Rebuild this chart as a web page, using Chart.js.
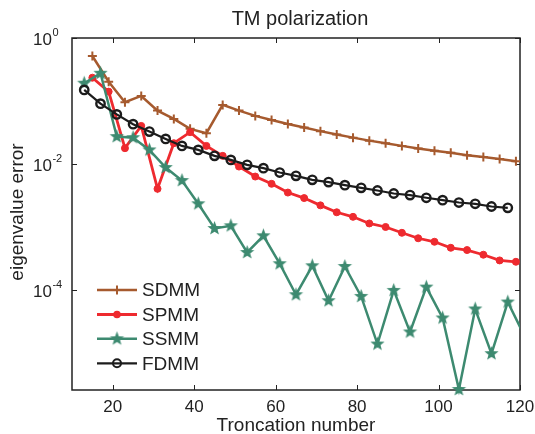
<!DOCTYPE html>
<html>
<head>
<meta charset="utf-8">
<script src="https://cdn.jsdelivr.net/npm/chart.js@4.4.0/dist/chart.umd.min.js"></script>
<style>
  body { margin: 0; background: #fff; }
  #c { display: block; }
</style>
</head>
<body>
<canvas id="c" width="535" height="434"></canvas>
<script>
// truncation numbers for each method
const X_SDMM = [15, 19, 23, 27, 31, 35, 39, 43, 47, 51, 55, 59, 63, 67, 71, 75, 79, 83, 87, 91, 95, 99, 103, 107, 111, 115, 119];
const X_SPMM = [15, 19, 23, 27, 31, 35, 39, 43, 47, 51, 55, 59, 63, 67, 71, 75, 79, 83, 87, 91, 95, 99, 103, 107, 111, 115, 119];
const X_SSMM = [13, 17, 21, 25, 29, 33, 37, 41, 45, 49, 53, 57, 61, 65, 69, 73, 77, 81, 85, 89, 93, 97, 101, 105, 109, 113, 117, 121];
const X_FDMM = [13, 17, 21, 25, 29, 33, 37, 41, 45, 49, 53, 57, 61, 65, 69, 73, 77, 81, 85, 89, 93, 97, 101, 105, 109, 113, 117];

// eigenvalue errors
const SDMM = [0.518, 0.202, 0.0953, 0.120, 0.0702, 0.0518, 0.0360, 0.0307, 0.0865, 0.0702, 0.0578, 0.0499, 0.0431,
  0.0377, 0.0331, 0.0292, 0.0261, 0.0234, 0.0213, 0.0193, 0.0175, 0.0161, 0.0150, 0.0137, 0.0128, 0.0119, 0.0110];
const SPMM = [0.234, 0.1406, 0.01775, 0.0401, 0.00401, 0.0213, 0.0319, 0.0193, 0.0134, 0.00906, 0.00629, 0.00482,
  0.00350, 0.00286, 0.00219, 0.00170, 0.00144, 0.00113, 0.000993, 0.000803, 0.000657, 0.000578, 0.000464,
  0.000427, 0.000360, 0.000292, 0.000278];
const SSMM = [0.191, 0.275, 0.0271, 0.0261, 0.01668, 0.00874, 0.00543, 0.00232, 0.000940, 0.001037, 0.000391,
  0.000720, 0.000259, 8.33e-5, 0.000240, 6.69e-5, 0.000234, 7.83e-5, 1.37e-5, 9.75e-5, 2.13e-5, 0.000110,
  3.56e-5, 2.6e-6, 4.94e-5, 9.64e-6, 6.38e-5, 1.90e-5];
const FDMM = [0.1495, 0.0906, 0.0611, 0.0427, 0.0326, 0.0249, 0.0193, 0.01668, 0.0134, 0.01157, 0.00964, 0.00855,
  0.00728, 0.00645, 0.00557, 0.00513, 0.00459, 0.00416, 0.00377, 0.00338, 0.00319, 0.00289, 0.00265, 0.00243,
  0.00232, 0.00210, 0.00200];

const X_TICKS = [20, 40, 60, 80, 100, 120];
const Y_TICK_EXP = [0, -2, -4];
const LEGEND = ['SDMM', 'SPMM', 'SSMM', 'FDMM'];

const BROWN = '#a65a2e';
const RED = '#ee2a2f';
const GREEN = '#3d8a70';
const BLACK = '#1c1c1c';
const FONT = '"Liberation Sans", Arial, Helvetica, sans-serif';

// filled five point star used as marker
function makeStar(r, color) {
  const c = document.createElement('canvas');
  const s = Math.ceil(r * 2 + 2);
  c.width = s; c.height = s;
  const g = c.getContext('2d');
  g.fillStyle = color;
  g.beginPath();
  for (let i = 0; i < 10; i++) {
    const rr = i % 2 === 0 ? r : r * 0.42;
    const a = -Math.PI / 2 + i * Math.PI / 5;
    g.lineTo(s / 2 + rr * Math.cos(a), s / 2 + rr * Math.sin(a));
  }
  g.closePath();
  g.fill();
  return c;
}
const star = makeStar(7.5, GREEN);

const pts = (xs, ys) => xs.map((x, i) => ({x: x, y: ys[i]}));
const clip = {left: 10, top: 10, right: 0, bottom: 10};

const frame = {
  id: 'frame',
  beforeDatasetsDraw(chart) {
    const {ctx, chartArea: a, scales: {x, y}} = chart;
    ctx.save();
    ctx.strokeStyle = '#222';
    ctx.lineWidth = 1.5;
    ctx.strokeRect(a.left, a.top, a.right - a.left, a.bottom - a.top);
    ctx.beginPath();
    X_TICKS.forEach(v => {
      const px = Math.round(x.getPixelForValue(v)) + 0.5;
      ctx.moveTo(px, a.bottom); ctx.lineTo(px, a.bottom - 5);
      ctx.moveTo(px, a.top); ctx.lineTo(px, a.top + 5);
    });
    Y_TICK_EXP.forEach(e => {
      const py = Math.round(y.getPixelForValue(Math.pow(10, e))) + 0.5;
      ctx.moveTo(a.left, py); ctx.lineTo(a.left + 5, py);
      ctx.moveTo(a.right, py); ctx.lineTo(a.right - 5, py);
    });
    ctx.lineWidth = 1;
    ctx.stroke();
    ctx.restore();
  },
  afterDraw(chart) {
    const {ctx, chartArea: a, scales: {x, y}} = chart;
    ctx.save();
    ctx.fillStyle = '#222';

    // x tick labels
    ctx.font = '17px ' + FONT;
    ctx.textAlign = 'center';
    ctx.textBaseline = 'alphabetic';
    X_TICKS.forEach(v => ctx.fillText(String(v), x.getPixelForValue(v), 412));

    // y tick labels 10^n
    Y_TICK_EXP.forEach(e => {
      const py = y.getPixelForValue(Math.pow(10, e));
      ctx.font = '17px ' + FONT;
      ctx.textAlign = 'left';
      ctx.fillText('10', 33, py + 7);
      const w = ctx.measureText('10').width;
      ctx.font = '11px ' + FONT;
      ctx.fillText(String(e), 33 + w + 0.5, py - 2);
    });

    // title and axis titles
    ctx.font = '20px ' + FONT;
    ctx.textAlign = 'center';
    ctx.fillText('TM polarization', 300, 25);
    ctx.font = '19px ' + FONT;
    ctx.fillText('Troncation number', (a.left + a.right) / 2, 431);
    ctx.save();
    ctx.translate(23, 212);
    ctx.rotate(-Math.PI / 2);
    ctx.fillText('eigenvalue error', 0, 0);
    ctx.restore();

    // legend
    const rows = [290, 314.5, 338.8, 363.3];
    const ds = chart.data.datasets;
    LEGEND.forEach((name, i) => {
      const d = ds[i];
      const yy = rows[i];
      ctx.strokeStyle = d.borderColor;
      ctx.lineWidth = d.borderWidth;
      ctx.beginPath();
      ctx.moveTo(97, yy); ctx.lineTo(137, yy);
      ctx.stroke();
      const mx = 117;
      if (i === 0) {
        ctx.lineWidth = 2;
        ctx.beginPath();
        ctx.moveTo(mx - 4.5, yy); ctx.lineTo(mx + 4.5, yy);
        ctx.moveTo(mx, yy - 4.5); ctx.lineTo(mx, yy + 4.5);
        ctx.stroke();
      } else if (i === 1) {
        ctx.fillStyle = RED;
        ctx.beginPath(); ctx.arc(mx, yy, 3.8, 0, Math.PI * 2); ctx.fill();
      } else if (i === 2) {
        ctx.drawImage(star, mx - star.width / 2, yy - star.height / 2);
      } else {
        ctx.lineWidth = 2;
        ctx.beginPath(); ctx.arc(mx, yy, 4, 0, Math.PI * 2); ctx.stroke();
      }
      ctx.fillStyle = '#222';
      ctx.font = '19px ' + FONT;
      ctx.textAlign = 'left';
      ctx.textBaseline = 'middle';
      ctx.fillText(name, 142, yy + 1);
      ctx.textBaseline = 'alphabetic';
    });
    ctx.restore();
  }
};

new Chart(document.getElementById('c'), {
  type: 'line',
  data: {
    datasets: [
      {
        label: 'SDMM', data: pts(X_SDMM, SDMM), order: 3, clip: clip,
        borderColor: BROWN, borderWidth: 2.5, backgroundColor: BROWN,
        pointStyle: 'cross', pointRadius: 4.5, pointBorderWidth: 2, pointBorderColor: BROWN
      },
      {
        label: 'SPMM', data: pts(X_SPMM, SPMM), order: 2, clip: clip,
        borderColor: RED, borderWidth: 2.8, backgroundColor: RED,
        pointStyle: 'circle', pointRadius: 3.5, pointBorderWidth: 1, pointBackgroundColor: RED, pointBorderColor: RED
      },
      {
        label: 'SSMM', data: pts(X_SSMM, SSMM), order: 1, clip: clip,
        borderColor: GREEN, borderWidth: 2.5, backgroundColor: GREEN,
        pointStyle: star, pointRadius: 1, pointBorderWidth: 0
      },
      {
        label: 'FDMM', data: pts(X_FDMM, FDMM), order: 0, clip: clip,
        borderColor: BLACK, borderWidth: 2.2, backgroundColor: 'rgba(0,0,0,0)',
        pointStyle: 'circle', pointRadius: 4.2, pointBorderWidth: 2.4,
        pointBackgroundColor: 'rgba(0,0,0,0)', pointBorderColor: BLACK
      }
    ]
  },
  options: {
    responsive: false,
    animation: false,
    devicePixelRatio: 1,
    layout: { padding: { left: 72, right: 15, top: 38, bottom: 44 } },
    elements: { line: { tension: 0 } },
    scales: {
      x: { type: 'linear', min: 10, max: 120, display: false },
      y: { type: 'logarithmic', min: 2.55e-6, max: 1, display: false }
    },
    plugins: {
      legend: { display: false },
      tooltip: { enabled: false },
      title: { display: false }
    }
  },
  plugins: [frame]
});
</script>
</body>
</html>
